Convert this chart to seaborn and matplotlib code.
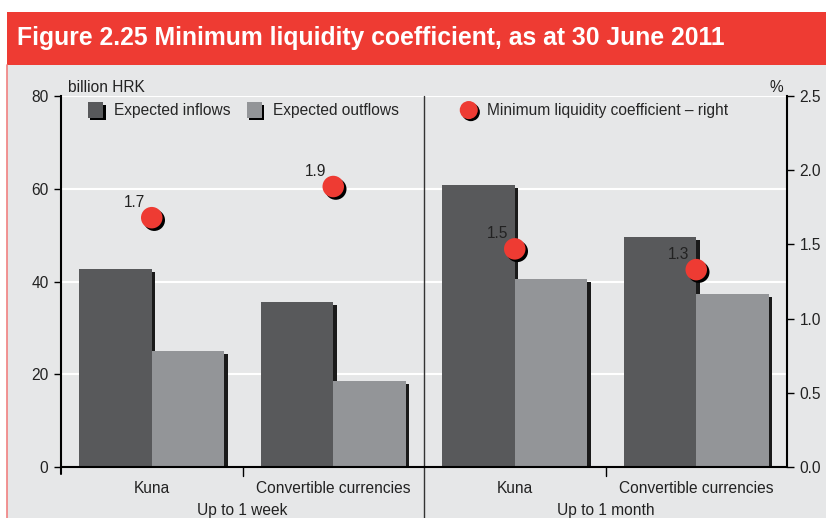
import matplotlib
matplotlib.use("Agg")
import matplotlib.pyplot as plt
import matplotlib.patheffects as pe
from matplotlib.patches import Rectangle
from matplotlib.lines import Line2D
import seaborn as sns
import pandas as pd

categories = ["Kuna", "Convertible currencies", "Kuna", "Convertible currencies"]
groups = ["Up to 1 week", "Up to 1 month"]
inflows = [42.7, 35.6, 60.8, 49.6]
outflows = [25.0, 18.5, 40.5, 37.3]
coefficient = [1.68, 1.89, 1.47, 1.33]
left_ticks = [0, 20, 40, 60, 80]
right_ticks = [0.0, 0.5, 1.0, 1.5, 2.0, 2.5]

sns.set_theme(style="white")
plt.rcParams["font.family"] = ["Liberation Sans", "DejaVu Sans"]

BG = "#e6e7e8"
RED = "#ee3b33"
DARK = "#58595b"
LIGHT = "#939598"
FS = 11.2
TXT = "#222222"

fig = plt.figure(figsize=(8.26, 5.18), dpi=100)
fig.patch.set_facecolor("white")

W, H = 826, 518
def fx(px): return px / W
def fy(py): return 1 - py / H

# panel and banner
fig.patches.append(Rectangle((fx(7), 0), 1 - fx(7), fy(65), transform=fig.transFigure,
                             facecolor=BG, edgecolor="none", zorder=-5))
fig.patches.append(Rectangle((fx(7), fy(65)), 1 - fx(7), fy(12) - fy(65), transform=fig.transFigure,
                             facecolor=RED, edgecolor="none", zorder=-5))
fig.lines.append(Line2D([fx(7.5), fx(7.5)], [0, fy(65)], transform=fig.transFigure,
                        color="#f08080", lw=1.2, zorder=-4))
fig.text(fx(17), fy(38.5), "Figure 2.25 Minimum liquidity coefficient, as at 30 June 2011",
         color="white", fontsize=17.8, fontweight="bold", va="center", ha="left",
         family=["Liberation Sans Narrow", "Liberation Sans", "DejaVu Sans"])

ax = fig.add_axes([fx(61), fy(467), fx(787) - fx(61), fy(96) - fy(467)])
ax.set_facecolor(BG)

rows = []
for i, c in enumerate(categories):
    rows.append({"pos": i, "type": "Expected inflows", "value": inflows[i]})
    rows.append({"pos": i, "type": "Expected outflows", "value": outflows[i]})
df = pd.DataFrame(rows)

sns.barplot(data=df, x="pos", y="value", hue="type", palette=[DARK, LIGHT],
            width=0.8, ax=ax, saturation=1, edgecolor="none", zorder=3, legend=False)
for p in ax.patches:
    p.set_path_effects([pe.SimplePatchShadow(offset=(2.5, -2), shadow_rgbFace="#1a1a1a", alpha=1),
                        pe.Normal()])

ax.set_ylim(0, 80)
ax.set_xlim(-0.5, 3.5)
ax.set_yticks(left_ticks)
ax.set_yticklabels([str(t) for t in left_ticks], fontsize=FS, color=TXT)
ax.set_xticks(range(4))
ax.set_xticklabels(categories, fontsize=FS, color=TXT)
ax.tick_params(axis="x", length=0, pad=10)
ax.tick_params(axis="y", length=5, width=1, color="black", direction="out", pad=4, left=True)
ax.set_xlabel("")
ax.set_ylabel("")
for y in [20, 40, 60, 80]:
    ax.axhline(y, color="white", lw=1.5, zorder=1)
for s in ["top", "right"]:
    ax.spines[s].set_visible(False)
ax.spines["left"].set_color("black")
ax.spines["left"].set_linewidth(1.5)
ax.spines["bottom"].set_color("black")
ax.spines["bottom"].set_linewidth(1.5)
ax.spines["bottom"].set_zorder(5)

# group boundary ticks
for xb in [0.5, 2.5]:
    ax.plot([xb, xb], [0, -2], color="black", lw=1, clip_on=False, zorder=5)
ax.plot([-0.5, -0.5], [0, -1.5], color="black", lw=1.5, clip_on=False)
ax.plot([1.5, 1.5], [80, -11], color="#333333", lw=1, clip_on=False, zorder=4)
ax.text(0.5, -9.3, groups[0], ha="center", va="center", fontsize=FS, color=TXT)
ax.text(2.5, -9.3, groups[1], ha="center", va="center", fontsize=FS, color=TXT)

ax2 = ax.twinx()
ax2.set_ylim(0, 2.5)
sns.scatterplot(x=list(range(4)), y=coefficient, ax=ax2, color=RED, s=240,
                edgecolor="none", zorder=6, legend=False)
for coll in ax2.collections:
    coll.set_path_effects([pe.SimplePatchShadow(offset=(1.8, -1.8), shadow_rgbFace="black", alpha=1),
                           pe.Normal()])
for i, v in enumerate(coefficient):
    ax2.annotate(f"{v:.1f}", (i, v), xytext=(-12.5, 11), textcoords="offset points",
                 ha="center", va="center", fontsize=FS, color=TXT)
ax2.set_yticks(right_ticks)
ax2.set_yticklabels([f"{t:.1f}" for t in right_ticks], fontsize=FS, color=TXT)
ax2.tick_params(axis="y", length=5, width=1, color="black", direction="out", pad=4, right=True)
for s in ["top", "left", "bottom"]:
    ax2.spines[s].set_visible(False)
ax2.spines["right"].set_color("black")
ax2.spines["right"].set_linewidth(1.5)
ax2.set_ylabel("")

fig.text(fx(68), fy(87), "billion HRK", fontsize=FS, color=TXT, va="center")
fig.text(fx(769), fy(87), "%", fontsize=FS, color=TXT, va="center")

# legends
shadow = [pe.SimplePatchShadow(offset=(1.5, -1.5), shadow_rgbFace="black", alpha=1), pe.Normal()]
h_in = Line2D([], [], marker="s", ls="none", markersize=11, markerfacecolor=DARK, markeredgecolor="none",
              path_effects=shadow)
h_out = Line2D([], [], marker="s", ls="none", markersize=11, markerfacecolor=LIGHT, markeredgecolor="none",
               path_effects=shadow)
h_dot = Line2D([], [], marker="o", ls="none", markersize=13, markerfacecolor=RED, markeredgecolor="none",
               path_effects=shadow)
leg1 = fig.legend([h_in, h_out], ["Expected inflows", "Expected outflows"], loc="center left",
                  bbox_to_anchor=(fx(88), fy(111)), ncol=2, frameon=False, fontsize=FS,
                  handletextpad=0.7, columnspacing=1.0, handlelength=1.0, borderaxespad=0, borderpad=0)
leg2 = fig.legend([h_dot], ["Minimum liquidity coefficient \u2013 right"], loc="center left",
                  bbox_to_anchor=(fx(461), fy(111)), frameon=False, fontsize=FS,
                  handletextpad=0.7, handlelength=1.0, borderaxespad=0, borderpad=0)

fig.savefig("out.png", dpi=100, facecolor=fig.get_facecolor())
